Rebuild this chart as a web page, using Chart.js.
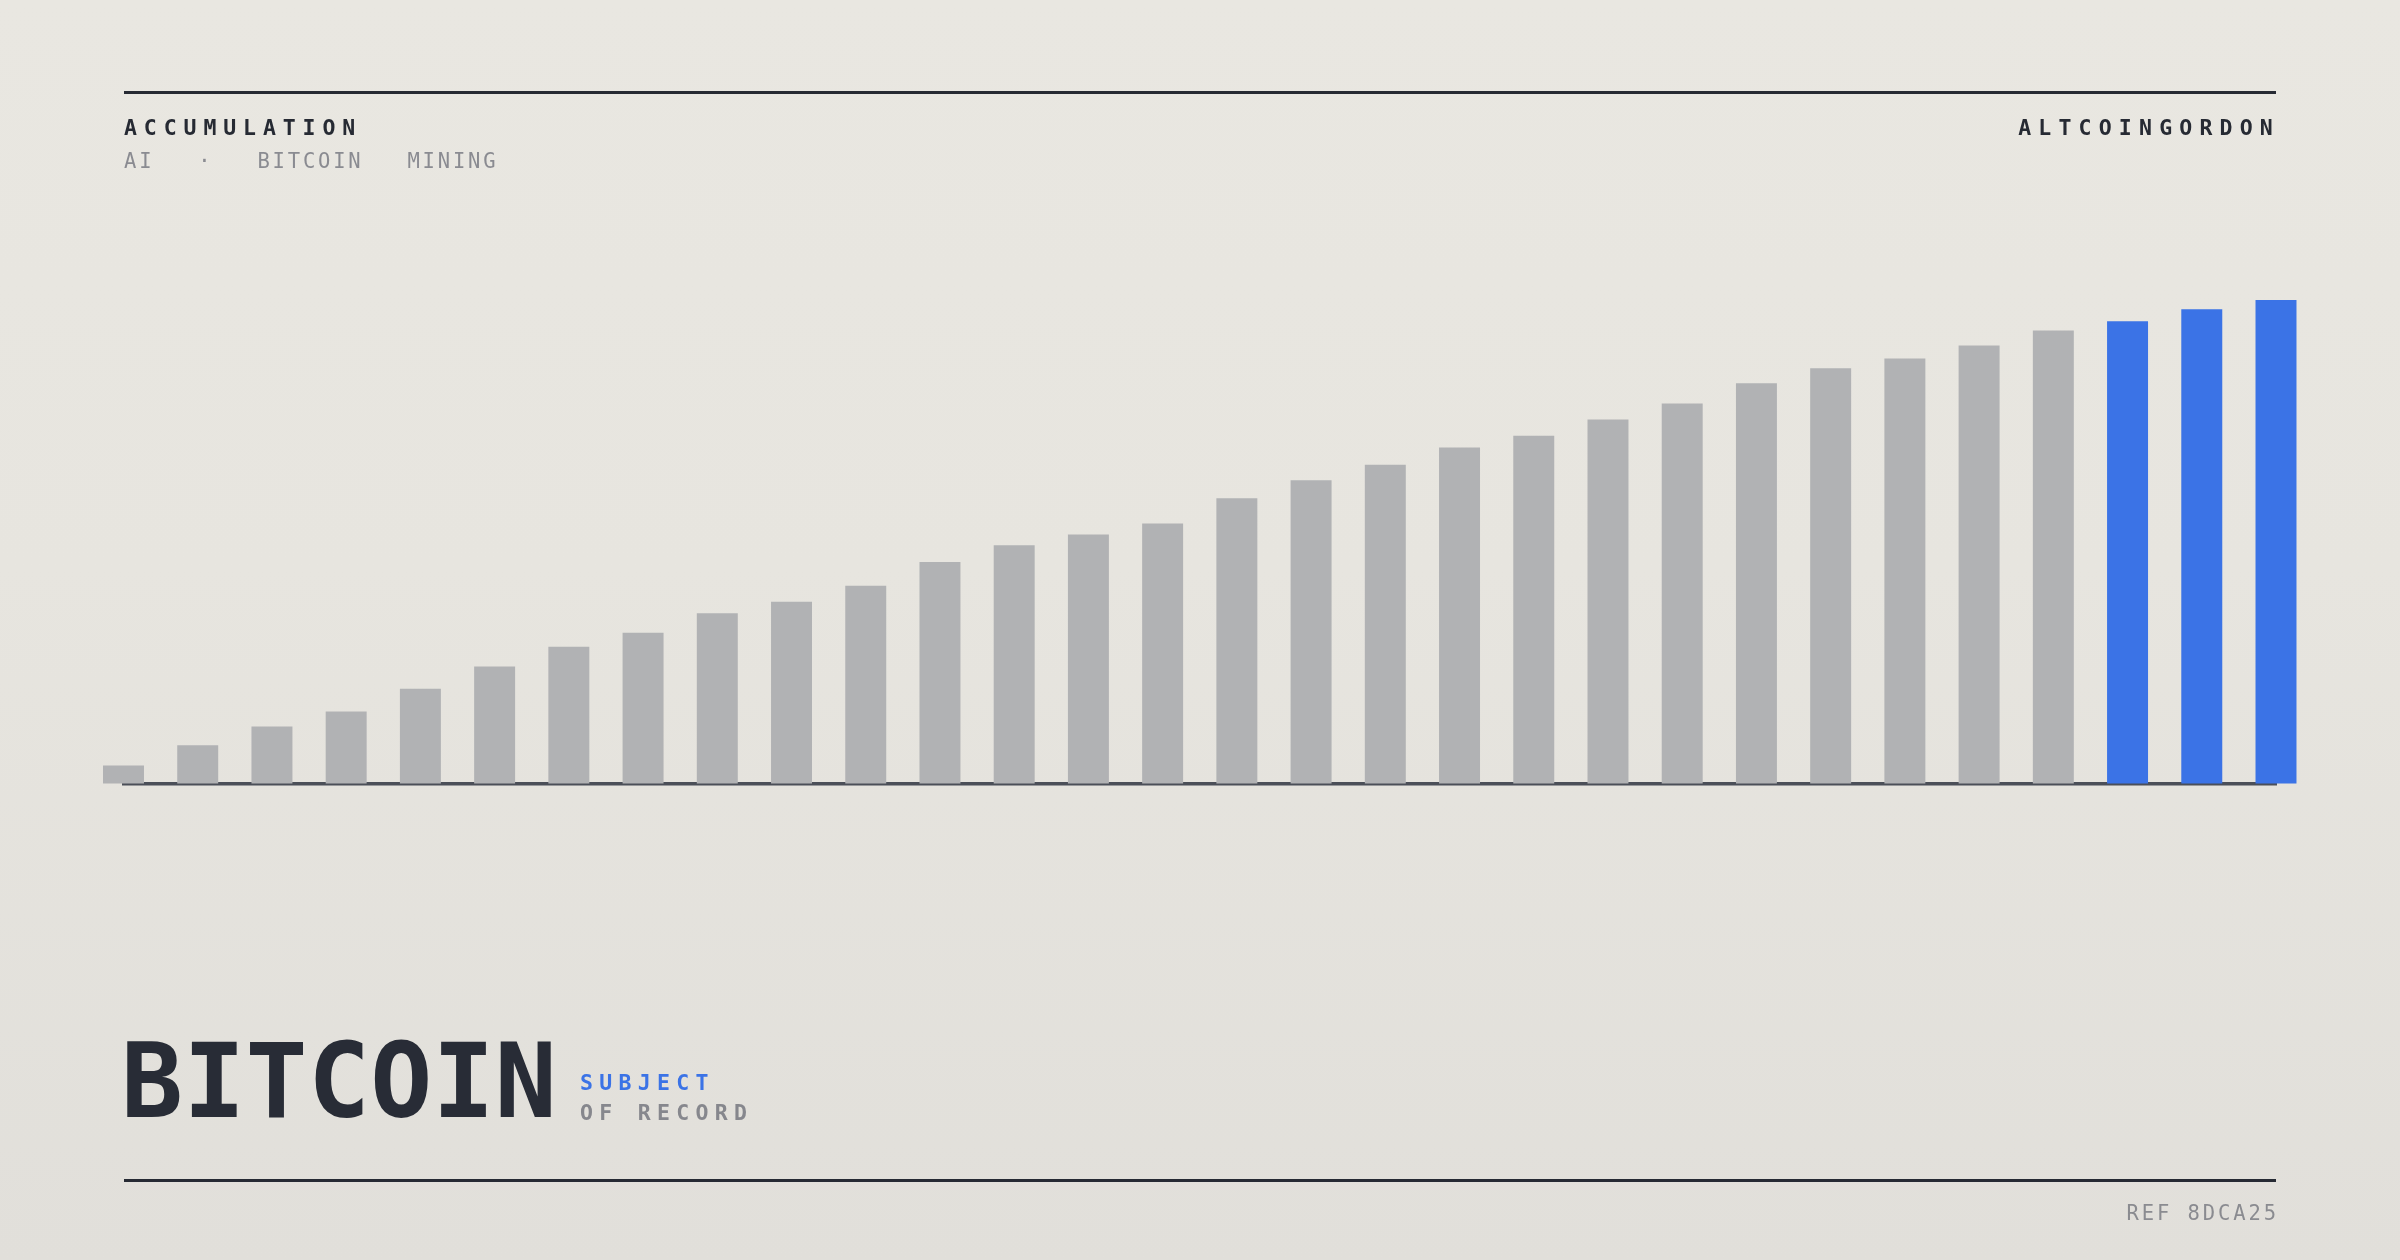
<!DOCTYPE html>
<html>
<head>
<meta charset="utf-8">
<script src="https://cdn.jsdelivr.net/npm/chart.js@4.4.1/dist/chart.umd.min.js"></script>
<style>
  html, body { margin: 0; padding: 0; }
  body {
    width: 2400px; height: 1260px; position: relative; overflow: hidden;
    background: linear-gradient(180deg, #e9e7e1 0%, #e7e5df 45%, #e1dfda 100%);
    font-family: "DejaVu Sans Mono", monospace;
  }
  #wrap { position: absolute; left: 0; top: 0; width: 2400px; height: 1260px; }
  .rule { position: absolute; left: 124px; width: 2152px; height: 3px; background: #262a33; }
  .t { position: absolute; line-height: 1; white-space: nowrap; }
  .kicker { font-size: 21.5px; font-weight: bold; letter-spacing: 6.9px; color: #262a33; }
  .sub { font-size: 20.5px; letter-spacing: 2.8px; color: #8a8b91; display: flex; gap: 44px; }
  .big { font-size: 103px; font-weight: bold; color: #282c36; letter-spacing: 0.3px; }
  .tag { font-size: 21.5px; font-weight: bold; letter-spacing: 6.3px; }
  .ref { font-size: 20.5px; letter-spacing: 2.9px; color: #8a8b90; }
</style>
</head>
<body>
<div id="wrap"><canvas id="chart"></canvas></div>

<div class="rule" style="top:91px"></div>
<div class="rule" style="top:1179px"></div>

<div class="t kicker" style="left:124px; top:117px">ACCUMULATION</div>
<div class="t sub" style="left:124px; top:151px"><span>AI</span><span>·</span><span>BITCOIN</span><span>MINING</span></div>
<div class="t kicker" style="right:124px; top:117px; margin-right:-4px; letter-spacing:7.2px">ALTCOINGORDON</div>

<div class="t big" style="left:121px; top:1030px">BITCOIN</div>
<div class="t tag" style="left:580px; top:1072px; color:#3b73e6">SUBJECT</div>
<div class="t tag" style="left:580px; top:1102px; color:#86878d">OF RECORD</div>
<div class="t ref" style="right:124px; top:1203px; margin-right:-2.9px">REF 8DCA25</div>

<script>
// periods along the x axis (no tick labels shown)
const periods = ["01","02","03","04","05","06","07","08","09","10",
                 "11","12","13","14","15","16","17","18","19","20",
                 "21","22","23","24","25","26","27","28","29","30"];

// accumulated amount, indexed so the last period = 100
const holdings = [3.7, 7.9, 11.8, 14.9, 19.6, 24.2, 28.3, 31.2, 35.2, 37.6,
                  40.9, 45.8, 49.3, 51.5, 53.8, 59.0, 62.7, 65.9, 69.5, 71.9,
                  75.3, 78.6, 82.8, 85.9, 87.9, 90.6, 93.7, 95.6, 98.1, 100];

// how many of the latest periods are highlighted
const recentCount = 3;

const grey = '#b1b2b4';
const blue = '#3b73e6';

const barColors = holdings.map((v, i) => i >= holdings.length - recentCount ? blue : grey);

const ctx = document.getElementById('chart');
new Chart(ctx, {
  type: 'bar',
  data: {
    labels: periods,
    datasets: [{
      data: holdings,
      backgroundColor: barColors,
      borderWidth: 0,
      categoryPercentage: 1,
      barPercentage: 0.552,
      clip: false
    }]
  },
  options: {
    responsive: true,
    maintainAspectRatio: false,
    animation: false,
    devicePixelRatio: 1,
    layout: {
      padding: { left: 123.5, right: 124, top: 300, bottom: 476.5 }
    },
    plugins: {
      legend: { display: false },
      tooltip: { enabled: false }
    },
    scales: {
      x: {
        offset: false,
        z: 1,
        grid: { display: false, drawTicks: false },
        ticks: { display: false },
        border: { display: true, color: '#4b4f58', width: 3.5 }
      },
      y: {
        display: false,
        min: 0,
        max: 100
      }
    }
  }
});
</script>
</body>
</html>
